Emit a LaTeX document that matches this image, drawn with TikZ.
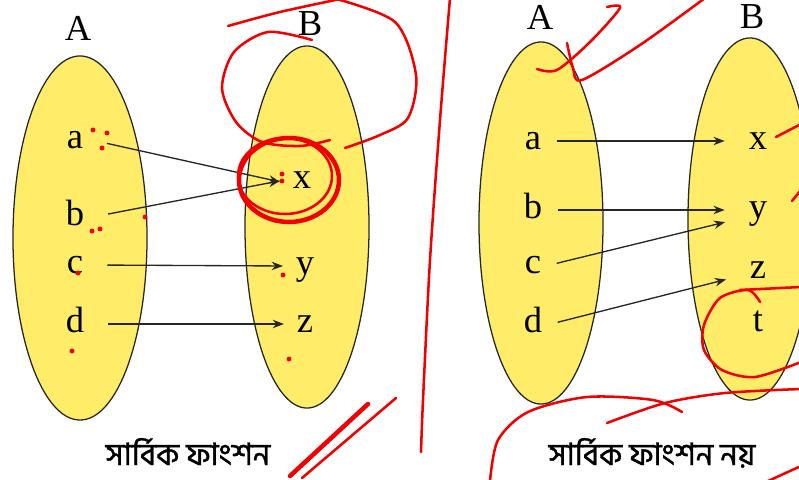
\documentclass[tikz,border=0pt]{standalone}
\usepackage{fontspec}
\setmainfont{Liberation Serif}
\newfontfamily\bnfont[Script=Bengali,FakeBold=1.2]{Hind Siliguri}
\usetikzlibrary{shapes.geometric, arrows.meta, positioning}
\definecolor{setyellow}{RGB}{255,236,104}
\definecolor{penred}{RGB}{240,0,0}

\begin{document}
\begin{tikzpicture}[x=0.025cm,y=-0.025cm,
  set/.style={ellipse,draw=black!85,fill=setyellow,line width=0.9pt,inner sep=0pt},
  setname/.style={font=\fontsize{26}{30}\selectfont},
  elem/.style={font=\fontsize{26}{30}\selectfont,text height=12pt,text depth=0pt,inner xsep=6pt,inner ysep=0pt},
  caption/.style={font=\bnfont\fontsize{22}{24}\selectfont,anchor=base,inner sep=0pt,text height=14pt,text depth=0pt},
  map/.style={-{Stealth[length=8pt,width=6pt]},line width=0.95pt,black!85},
  mapL/.style={map,shorten <=11pt,shorten >=3pt},
  mapR/.style={map,shorten <=5pt,shorten >=11pt},
  scribble/.style={penred,line width=1.8pt,line cap=round,line join=round},
  thickscribble/.style={scribble,line width=3.2pt},
  dot/.style={circle,fill=penred,inner sep=0pt,minimum size=3.5pt}
]
  \useasboundingbox (0,0) rectangle (799,479);
  \clip (0,0) rectangle (799,479);

  % surjective function
  \node[set,minimum width=3.35cm,minimum height=9.1cm] (lsetA) at (80,238) {};
  \node[set,minimum width=3.1cm,minimum height=9.05cm] (lsetB) at (307,227) {};
  \node[setname] (lnameA) at (78,28) {A};
  \node[setname] (lnameB) at (310,24) {B};
  \node[elem] (la) at (75,140) {a};
  \node[elem] (lb) at (75,217) {b};
  \node[elem] (lc) at (75,265) {c};
  \node[elem] (ld) at (75,324) {d};
  \node[elem] (lx) at (302,180) {x};
  \node[elem] (ly) at (305,266) {y};
  \node[elem] (lz) at (305,324) {z};
  \node[caption] (lcap) at (188,465) {সার্বিক ফাংশন};

  \draw[mapL] (la.east) -- ([yshift=-2pt]lx.west);
  \draw[mapL] (lb.east) -- (lx.west);
  \draw[mapL] (lc.east) -- (ly.west);
  \draw[mapL] (ld.east) -- (lz.west);

  % not surjective
  \node[set,minimum width=3.1cm,minimum height=9.05cm] (rsetA) at (541,223) {};
  \node[set,minimum width=3.1cm,minimum height=9.05cm] (rsetB) at (750,219) {};
  \node[setname] (rnameA) at (540,17) {A};
  \node[setname] (rnameB) at (752,17) {B};
  \node[elem] (ra) at (533,141) {a};
  \node[elem] (rb) at (533,210) {b};
  \node[elem] (rc) at (533,265) {c};
  \node[elem] (rd) at (533,324) {d};
  \node[elem] (rx) at (758,141) {x};
  \node[elem] (ry) at (758,210) {y};
  \node[elem] (rz) at (758,270) {z};
  \node[elem] (rt) at (758,323) {t};
  \node[caption] (rcap) at (652,465) {সার্বিক ফাংশন নয়};

  \draw[mapR] (ra.east) -- (rx.west);
  \draw[mapR] (rb.east) -- (ry.west);
  \draw[mapR] (rc.east) -- ([yshift=-6pt]ry.west);
  \draw[mapR] (rd.east) -- ([yshift=-4pt]rz.west);

  % red pen marks
  \draw[scribble] plot[smooth] coordinates {(228,26) (280,12) (345,-2)};
  \draw[scribble] plot[smooth] coordinates {(333,-2) (395,22) (416,75) (408,118) (380,135) (345,148)};
  \draw[scribble] plot[smooth] coordinates {(312,40) (268,32) (234,52) (222,88) (236,122) (262,142) (300,146) (330,140)};
  \draw[thickscribble] (289,180) ellipse (50 and 42);
  \draw[scribble] (285,176) ellipse (47 and 38);
  \draw[thickscribble] (290,476) -- (368,404);
  \draw[scribble] (302,478) -- (396,398);
  \draw[scribble] plot[smooth] coordinates {(450,-2) (440,120) (430,260) (423,400) (421,452)};
  \foreach \p in {(93,130),(107,133),(102,148),(92,231),(100,229),(145,217),(78,273),(72,351),(283,275),(289,359),(282,174),(282,181)}
    \node[dot] at \p {};
  \draw[scribble] plot[smooth] coordinates {(537,69) (557,70) (590,42) (620,8) (607,7)};
  \draw[scribble] plot[smooth] coordinates {(567,43) (573,68) (582,80) (640,45) (705,-2)};
  \draw[scribble] (776,137) -- (801,124);
  \draw[scribble] (792,201) -- (801,190);
  \draw[scribble] plot[smooth] coordinates {(760,302) (748,290) (720,298) (704,325) (704,350) (722,370) (755,377) (801,362)};
  \draw[scribble] (740,290) -- (801,287);
  \draw[scribble] plot[smooth] coordinates {(490,481) (498,440) (528,412) (587,397) (653,400) (682,412)};
  \draw[scribble] plot[smooth] coordinates {(607,423) (665,403) (725,393) (801,389)};
  \draw[scribble] (768,481) -- (801,466);
\end{tikzpicture}
\end{document}
